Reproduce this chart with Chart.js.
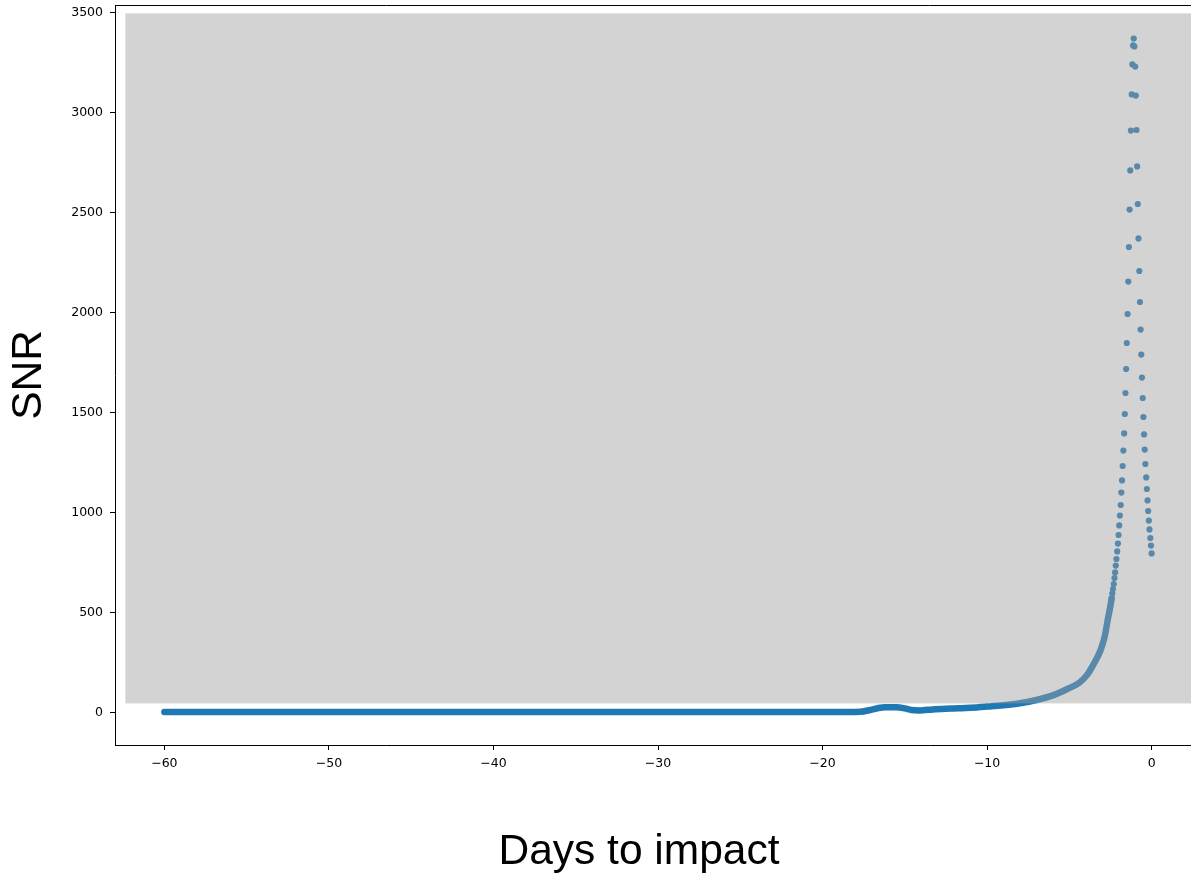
<!DOCTYPE html>
<html>
<head>
    <title>SNR vs days to impact</title>
    <script src="https://cdn.jsdelivr.net/npm/chart.js"></script>
    <style>
        body { margin: 0; overflow: hidden; background: #fff; }
        #chart { display: block; }
    </style>
</head>
<body>
    <canvas id="chart" width="1201" height="874"></canvas>

    <script>
        // slow build-up, points so dense they read as one thick trace
        const trendDays = [-60, -30.2, -18.5, -17.7, -17.1, -16.6, -16.2, -15.5, -15.0, -14.6, -14.1, -13.3, -12.2, -11.0,
            -10.0, -9.0, -8.0, -7.0, -6.0, -5.1, -4.4, -3.9, -3.5, -3.1, -2.85, -2.67, -2.51, -2.43];
        const trendSnr = [2, 2, 2, 3, 12, 22, 26, 26, 20, 12, 10, 15, 19, 23,
            29, 36, 46, 62, 85, 118, 148, 190, 245, 312, 380, 462, 530, 570];

        // last days before impact, one point per hour
        const hourDays = [-2.43, -2.39, -2.35, -2.30, -2.26, -2.22, -2.18, -2.14, -2.09, -2.05,
            -2.01, -1.97, -1.93, -1.88, -1.84, -1.80, -1.76, -1.72, -1.67, -1.63,
            -1.59, -1.55, -1.51, -1.46, -1.42, -1.38, -1.34, -1.30, -1.26, -1.21,
            -1.17, -1.13, -1.09, -1.05, -1.00, -0.96, -0.92, -0.88, -0.84, -0.80,
            -0.75, -0.71, -0.67, -0.63, -0.59, -0.54, -0.50, -0.46, -0.42, -0.38,
            -0.33, -0.29, -0.25, -0.21, -0.17, -0.13, -0.08, -0.04, 0.00];
        const hourSnr = [570, 594, 617, 642, 672, 700, 734, 767, 805, 844,
            887, 935, 984, 1037, 1099, 1160, 1232, 1309, 1395, 1492,
            1597, 1717, 1847, 1992, 2154, 2327, 2514, 2710, 2909, 3090,
            3240, 3335, 3369, 3330, 3229, 3084, 2912, 2730, 2542, 2370,
            2207, 2052, 1914, 1789, 1674, 1572, 1477, 1390, 1314, 1242,
            1175, 1117, 1060, 1007, 959, 915, 872, 834, 795];

        const xTicks = [-60, -50, -40, -30, -20, -10, 0];
        const yTicks = [0, 500, 1000, 1500, 2000, 2500, 3000, 3500];

        // shaded band (days, SNR)
        const shadeDays = [-62.37, 3];
        const shadeSnr = [45, 3495];

        const blue = '#1f77b4';
        const tickFont = { family: 'DejaVu Sans', size: 12.5 };
        const labelFont = '42.5px "Liberation Sans", Arial, sans-serif';

        const shade = {
            id: 'shade',
            afterDatasetsDraw(chart) {
                const { ctx, chartArea, scales: { x, y } } = chart;
                const x0 = x.getPixelForValue(shadeDays[0]);
                const x1 = Math.min(x.getPixelForValue(shadeDays[1]), chartArea.right);
                const y0 = y.getPixelForValue(shadeSnr[1]);
                const y1 = y.getPixelForValue(shadeSnr[0]);
                ctx.save();
                ctx.fillStyle = 'rgba(159,159,159,0.46)';
                ctx.fillRect(x0, y0, x1 - x0, y1 - y0);
                ctx.restore();
            },
            afterDraw(chart) {
                const { ctx, chartArea } = chart;
                ctx.save();
                // top spine
                ctx.strokeStyle = '#000';
                ctx.lineWidth = 1;
                ctx.beginPath();
                ctx.moveTo(chartArea.left, chartArea.top + 0.5);
                ctx.lineTo(chartArea.right, chartArea.top + 0.5);
                ctx.stroke();
                // x label sits at the figure centre, not the axes centre
                ctx.fillStyle = '#000';
                ctx.font = labelFont;
                ctx.textAlign = 'center';
                ctx.textBaseline = 'alphabetic';
                ctx.fillText('Days to impact', 639, 864);
                ctx.restore();
            }
        };

        const minus = v => String(v).replace('-', '\u2212');
        const noPad = s => { s.paddingLeft = 0; s.paddingRight = 0; s.paddingTop = 0; s.paddingBottom = 0; };

        const ctx = document.getElementById('chart').getContext('2d');
        const chart = new Chart(ctx, {
            type: 'scatter',
            data: {
                datasets: [{
                    label: 'trend',
                    data: trendDays.map((d, i) => ({ x: d, y: trendSnr[i] })),
                    showLine: true,
                    borderColor: blue,
                    borderWidth: 6.5,
                    borderCapStyle: 'round',
                    borderJoinStyle: 'round',
                    cubicInterpolationMode: 'monotone',
                    pointRadius: 0
                }, {
                    label: 'hourly',
                    data: hourDays.map((d, i) => ({ x: d, y: hourSnr[i] })),
                    backgroundColor: blue,
                    borderWidth: 0,
                    pointRadius: 3.1
                }]
            },
            options: {
                responsive: false,
                animation: false,
                devicePixelRatio: 1,
                layout: { autoPadding: false, padding: { top: 5, right: 0, left: 0, bottom: 0 } },
                plugins: { legend: { display: false }, tooltip: { enabled: false } },
                scales: {
                    x: {
                        type: 'linear',
                        min: -63,
                        max: 3,
                        afterBuildTicks: s => { s.ticks = xTicks.map(v => ({ value: v })); },
                        afterFit: s => { s.height = 129; noPad(s); },
                        ticks: { font: tickFont, color: '#000', padding: 6, maxRotation: 0, autoSkip: false, callback: minus },
                        grid: { drawOnChartArea: false, tickLength: 5, tickColor: '#000', tickWidth: 1 },
                        border: { color: '#000', width: 1 }
                    },
                    y: {
                        min: -163,
                        max: 3537,
                        afterBuildTicks: s => { s.ticks = yTicks.map(v => ({ value: v })); },
                        afterFit: s => { s.width = 115; noPad(s); },
                        ticks: { font: tickFont, color: '#000', padding: 7, autoSkip: false, callback: v => String(v) },
                        grid: { drawOnChartArea: false, tickLength: 5, tickColor: '#000', tickWidth: 1 },
                        border: { color: '#000', width: 1 },
                        title: {
                            display: true, text: 'SNR', color: '#000',
                            font: { family: '"Liberation Sans", Arial, sans-serif', size: 42.5, lineHeight: 1 },
                            padding: { top: 8, bottom: 0 }
                        }
                    }
                }
            },
            plugins: [shade]
        });
    </script>
</body>
</html>
